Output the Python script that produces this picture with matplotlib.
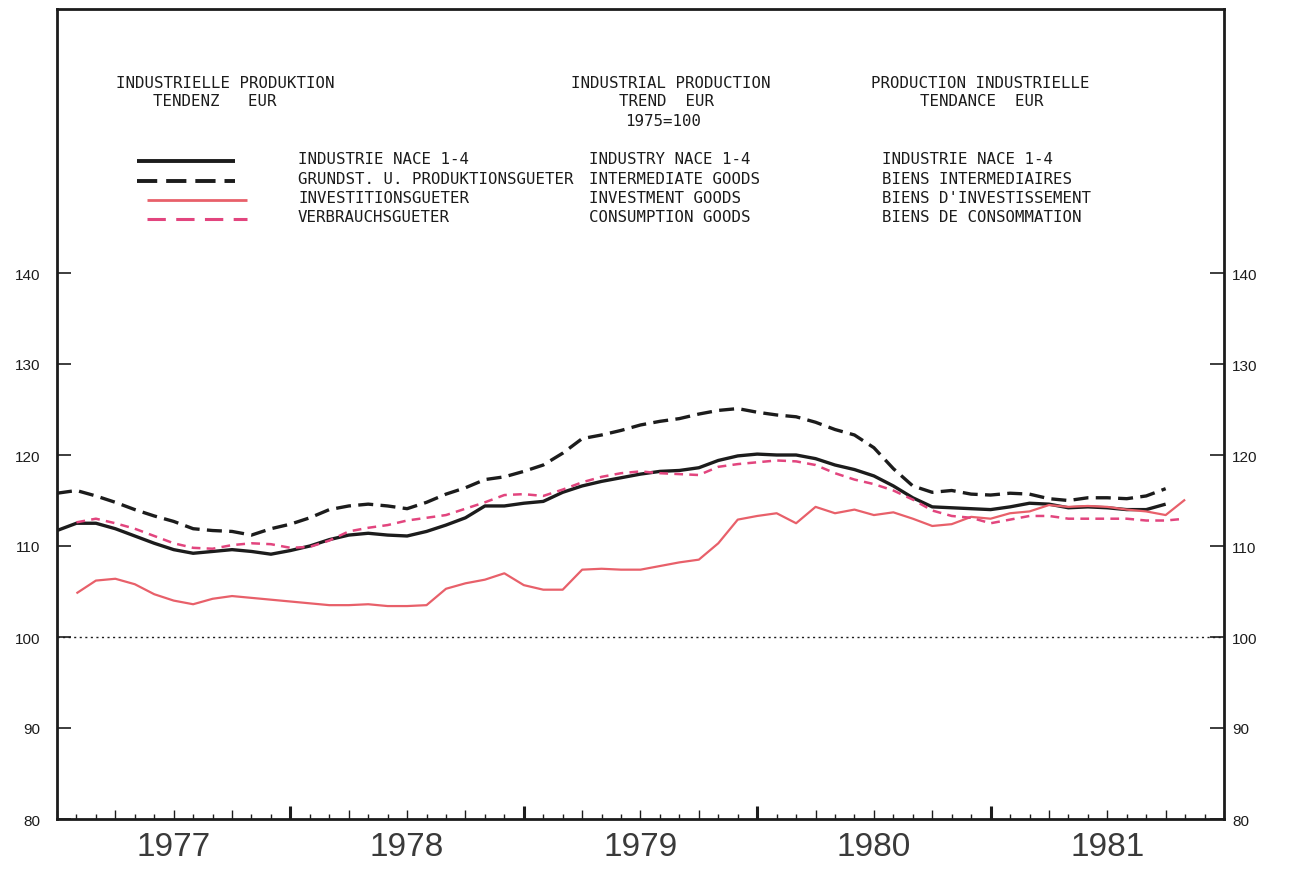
import matplotlib
matplotlib.use("Agg")
import matplotlib.pyplot as plt
import matplotlib.transforms as mtransforms
from matplotlib.lines import Line2D
import numpy as np

nan = np.nan
# months since Jan 1977
MONTHS = np.arange(59)
INDUSTRY = [111.7, 112.5, 112.5, 111.9, 111.1, 110.3, 109.6, 109.2, 109.4, 109.6,
            109.4, 109.1, 109.5, 110.0, 110.7, 111.2, 111.4, 111.2, 111.1, 111.6,
            112.3, 113.1, 114.4, 114.4, 114.7, 114.9, 115.9, 116.6, 117.1, 117.5,
            117.9, 118.2, 118.3, 118.6, 119.4, 119.9, 120.1, 120.0, 120.0, 119.6,
            118.9, 118.4, 117.7, 116.6, 115.3, 114.3, 114.2, 114.1, 114.0, 114.3,
            114.7, 114.6, 114.2, 114.3, 114.2, 114.0, 114.0, 114.6, nan]
INTERMEDIATE = [115.8, 116.1, 115.5, 114.8, 114.0, 113.3, 112.7, 111.9, 111.7, 111.6,
                111.2, 111.9, 112.4, 113.1, 114.0, 114.4, 114.6, 114.4, 114.1, 114.8,
                115.7, 116.4, 117.3, 117.6, 118.2, 118.9, 120.2, 121.8, 122.2, 122.7,
                123.3, 123.7, 124.0, 124.5, 124.9, 125.1, 124.7, 124.4, 124.2, 123.6,
                122.8, 122.2, 120.8, 118.5, 116.6, 115.9, 116.1, 115.7, 115.6, 115.8,
                115.7, 115.2, 115.0, 115.3, 115.3, 115.2, 115.5, 116.3, nan]
INVESTMENT = [nan, 104.8, 106.2, 106.4, 105.8, 104.7, 104.0, 103.6, 104.2, 104.5,
              104.3, 104.1, 103.9, 103.7, 103.5, 103.5, 103.6, 103.4, 103.4, 103.5,
              105.3, 105.9, 106.3, 107.0, 105.7, 105.2, 105.2, 107.4, 107.5, 107.4,
              107.4, 107.8, 108.2, 108.5, 110.3, 112.9, 113.3, 113.6, 112.5, 114.3,
              113.6, 114.0, 113.4, 113.7, 113.0, 112.2, 112.4, 113.2, 113.0, 113.6,
              113.8, 114.5, 114.3, 114.4, 114.3, 114.0, 113.8, 113.4, 115.1]
CONSUMPTION = [nan, 112.6, 113.0, 112.5, 111.9, 111.1, 110.3, 109.8, 109.7, 110.1,
               110.3, 110.2, 109.8, 109.9, 110.6, 111.6, 112.0, 112.3, 112.8, 113.1,
               113.4, 114.1, 114.8, 115.6, 115.7, 115.5, 116.2, 117.0, 117.6, 118.0,
               118.2, 118.0, 117.9, 117.8, 118.7, 119.0, 119.2, 119.4, 119.3, 118.9,
               118.0, 117.3, 116.8, 116.1, 115.1, 113.9, 113.3, 113.1, 112.5, 112.9,
               113.3, 113.3, 113.0, 113.0, 113.0, 113.0, 112.8, 112.8, 113.0]
YEARS = [1977, 1978, 1979, 1980, 1981]
Y_TICKS = [80, 90, 100, 110, 120, 130, 140]

TITLES = [
    (116, 83, "INDUSTRIELLE PRODUKTION"), (153, 102, "TENDENZ   EUR"),
    (571, 83, "INDUSTRIAL PRODUCTION"), (619, 102, "TREND  EUR"), (625, 121, "1975=100"),
    (871, 83, "PRODUCTION INDUSTRIELLE"), (920, 102, "TENDANCE  EUR"),
]
LEGEND_DE = ["INDUSTRIE NACE 1-4", "GRUNDST. U. PRODUKTIONSGUETER",
             "INVESTITIONSGUETER", "VERBRAUCHSGUETER"]
LEGEND_EN = ["INDUSTRY NACE 1-4", "INTERMEDIATE GOODS", "INVESTMENT GOODS", "CONSUMPTION GOODS"]
LEGEND_FR = ["INDUSTRIE NACE 1-4", "BIENS INTERMEDIAIRES",
             "BIENS D'INVESTISSEMENT", "BIENS DE CONSOMMATION"]

BLACK, RED, PINK = "#1c1c1c", "#e8606a", "#e2457e"
W, H = 1314, 879
STYLES = [dict(color=BLACK, lw=2.4, ls="-"),
          dict(color=BLACK, lw=2.4, ls=(0, (4.5, 2.2))),
          dict(color=RED, lw=1.6, ls="-"),
          dict(color=PINK, lw=1.8, ls=(0, (3.5, 2.5)))]
# legend samples: fewer, longer dashes (four per sample)
SAMPLE_LS = ["-", (0, (5.2, 2.3)), "-", (0, (6.0, 3.4))]

fig = plt.figure(figsize=(W / 100, H / 100), dpi=100)
ax = fig.add_axes([57 / W, 59 / H, (1224 - 57) / W, (869 - 59) / H])
ax.set_xlim(1977, 1982)
ax.set_ylim(80, 80 + 810 / 9.1)

x = 1977 + MONTHS / 12
for series, st in zip([INDUSTRY, INTERMEDIATE, INVESTMENT, CONSUMPTION], STYLES):
    ax.plot(x, series, solid_capstyle="butt", dash_capstyle="butt", **st)
ax.axhline(100, color=BLACK, lw=1.0, ls=(0, (1.5, 2.5)))

for s in ax.spines.values():
    s.set_linewidth(2.0)
    s.set_color(BLACK)

# y ticks on both sides, pointing in; right labels via a secondary axis (smaller pad)
ax.set_yticks(Y_TICKS)
ax.tick_params(axis="y", direction="in", length=10, width=1.2, left=True, right=False,
               labelsize=11, pad=12, colors=BLACK)
for lab in ax.get_yticklabels():
    lab.set_fontfamily("Liberation Sans")
sy = ax.secondary_yaxis("right")
sy.set_yticks(Y_TICKS)
sy.tick_params(direction="in", length=10, width=1.2, labelsize=11, pad=6, colors=BLACK)
sy.spines["right"].set_visible(False)
for lab in sy.get_yticklabels():
    lab.set_fontfamily("Liberation Sans")

# x ticks: quarters major, months minor, years on secondary axis
ax.set_xticks(1977 + np.arange(0, 61, 3) / 12)
ax.set_xticks(1977 + np.arange(0, 61) / 12, minor=True)
ax.tick_params(axis="x", which="major", direction="in", length=6.5, width=1.0,
               labelbottom=False, colors=BLACK)
ax.tick_params(axis="x", which="minor", direction="in", length=3.8, width=1.0, colors=BLACK)
sec = ax.secondary_xaxis("bottom")
sec.set_xticks(YEARS[1:])
sec.tick_params(direction="in", length=9.5, width=2.2, labelbottom=False, colors=BLACK)
sec.spines["bottom"].set_visible(False)

tr = mtransforms.blended_transform_factory(ax.transData, ax.transAxes)
for yr in YEARS:
    ax.text(yr + 0.5, -28 / 810, str(yr), transform=tr, ha="center", va="center",
            fontsize=24, family="Liberation Sans", color="#3a3a3a")

# header texts
mono = dict(family="DejaVu Sans Mono", fontsize=11.3, color=BLACK, va="center", ha="left")
for px, py, txt in TITLES:
    fig.text(px / W, 1 - py / H, txt, **mono)

rows_y = [160, 180, 199, 218]
samples = [(137, 235), (137, 235), (147, 247), (147, 247)]
for py, (x0, x1), st, sls, de, en, fr in zip(rows_y, samples, STYLES, SAMPLE_LS,
                                              LEGEND_DE, LEGEND_EN, LEGEND_FR):
    fig.add_artist(Line2D([x0 / W, x1 / W], [1 - (py + 2) / H, 1 - (py + 2) / H],
                          transform=fig.transFigure, color=st["color"], lw=st["lw"] + 0.4,
                          ls=sls, solid_capstyle="butt", dash_capstyle="butt"))
    fig.text(298 / W, 1 - py / H, de, **mono)
    fig.text(589 / W, 1 - py / H, en, **mono)
    fig.text(882 / W, 1 - py / H, fr, **mono)

fig.savefig("out.png", dpi=100)
